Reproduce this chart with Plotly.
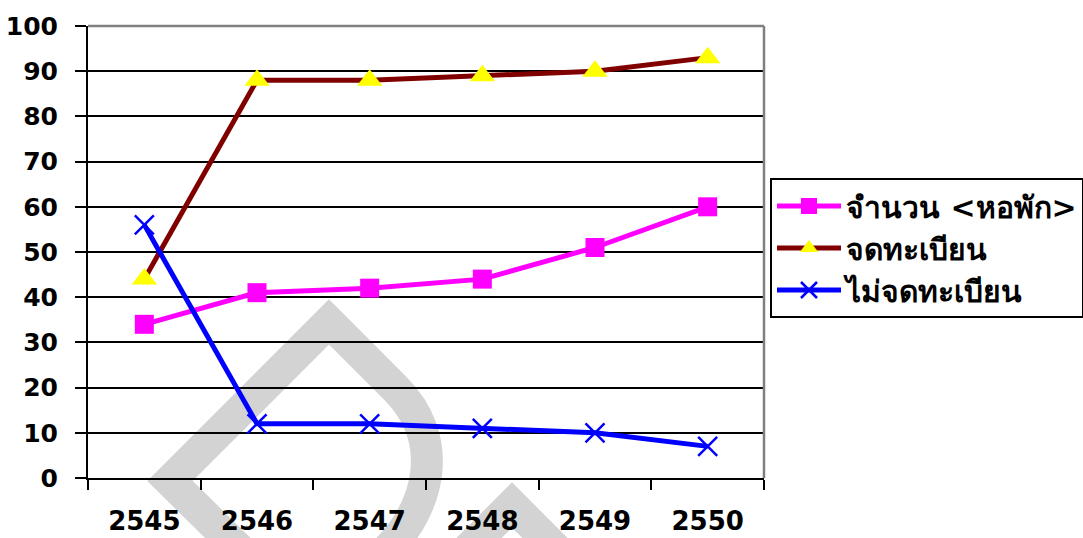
import plotly.graph_objects as go

years = ["2545", "2546", "2547", "2548", "2549", "2550"]
dorm_count = [34, 41, 42, 44, 51, 60]
registered = [44, 88, 88, 89, 90, 93]
unregistered = [56, 12, 12, 11, 10, 7]

name_count = "จำนวน <หอพัก>"
name_reg = "จดทะเบียน"
name_unreg = "ไม่จดทะเบียน"

FONT = "DejaVu Sans, Arial, Liberation Sans, sans-serif"

W, H = 1083, 538

fig = go.Figure()
fig.add_trace(go.Scatter(
    x=years, y=dorm_count, name=name_count.replace("<", "&lt;").replace(">", "&gt;"),
    mode="lines+markers",
    line=dict(color="#ff00ff", width=5),
    marker=dict(symbol="square", size=19, color="#ff00ff"),
))
fig.add_trace(go.Scatter(
    x=years, y=registered, name=name_reg,
    mode="lines+markers",
    line=dict(color="#800000", width=5),
    marker=dict(symbol="triangle-up", size=22, color="#ffff00"),
))
fig.add_trace(go.Scatter(
    x=years, y=unregistered, name=name_unreg,
    mode="lines+markers",
    line=dict(color="#0000ff", width=5),
    marker=dict(symbol="x-thin-open", size=19, color="#0000ff",
                line=dict(color="#0000ff", width=2.5)),
))

# pixel -> paper helpers for the watermark decoration
L_PX, R_PX, T_PX, B_PX = 88, 764, 26, 478

def px(X):
    return (X - L_PX) / (R_PX - L_PX)

def py(Y):
    return (B_PX - Y) / (B_PX - T_PX)

wm1 = (f"M {px(240)},{py(550)} L {px(170)},{py(481)} L {px(329)},{py(322)} "
       f"L {px(395)},{py(388)} C {px(445)},{py(438)} {px(432)},{py(505)} {px(385)},{py(552)}")
wm2 = f"M {px(462)},{py(555)} L {px(512)},{py(505)} L {px(562)},{py(555)}"

shapes = [
    dict(type="path", xref="paper", yref="paper", path=wm1, layer="below",
         line=dict(color="#d3d3d3", width=32), fillcolor="rgba(0,0,0,0)"),
    dict(type="path", xref="paper", yref="paper", path=wm2, layer="below",
         line=dict(color="#d3d3d3", width=32), fillcolor="rgba(0,0,0,0)"),
    dict(type="line", xref="paper", yref="paper", x0=0, x1=1, y0=1, y1=1,
         line=dict(color="#808080", width=2.5), layer="above"),
    dict(type="line", xref="paper", yref="paper", x0=1, x1=1, y0=0, y1=1,
         line=dict(color="#808080", width=2.5), layer="above"),
]

fig.update_layout(
    width=W, height=H,
    margin=dict(l=L_PX, r=W - R_PX, t=T_PX, b=H - B_PX, autoexpand=False),
    paper_bgcolor="white",
    plot_bgcolor="rgba(0,0,0,0)",
    font=dict(family=FONT, color="black"),
    shapes=shapes,
    legend=dict(
        x=px(770), xanchor="left", y=py(178), yanchor="top",
        bgcolor="white", bordercolor="black", borderwidth=2,
        itemwidth=64,
        font=dict(family=FONT, size=30, weight="bold", color="black"),
    ),
    xaxis=dict(
        type="category", range=[-0.5, 5.5], automargin=False,
        showgrid=False, showline=True, linecolor="black", linewidth=2,
        ticks="outside", ticklen=10, tickwidth=2, tickcolor="black",
        tickson="boundaries",
        tickfont=dict(family=FONT, size=26, weight="bold", color="black"),
        ticklabelstandoff=19, zeroline=False,
    ),
    yaxis=dict(
        range=[0, 100], dtick=10, tick0=0, automargin=False,
        showgrid=True, gridcolor="black", gridwidth=2,
        showline=True, linecolor="black", linewidth=2,
        ticks="outside", ticklen=11, tickwidth=2, tickcolor="black",
        tickfont=dict(family=FONT, size=25, weight="bold", color="black"),
        ticklabelstandoff=12, zeroline=False,
    ),
)

fig.write_html("out.html",
               config={"displayModeBar": False},
               post_script="document.body.style.margin='0';document.body.style.overflow='hidden';")
